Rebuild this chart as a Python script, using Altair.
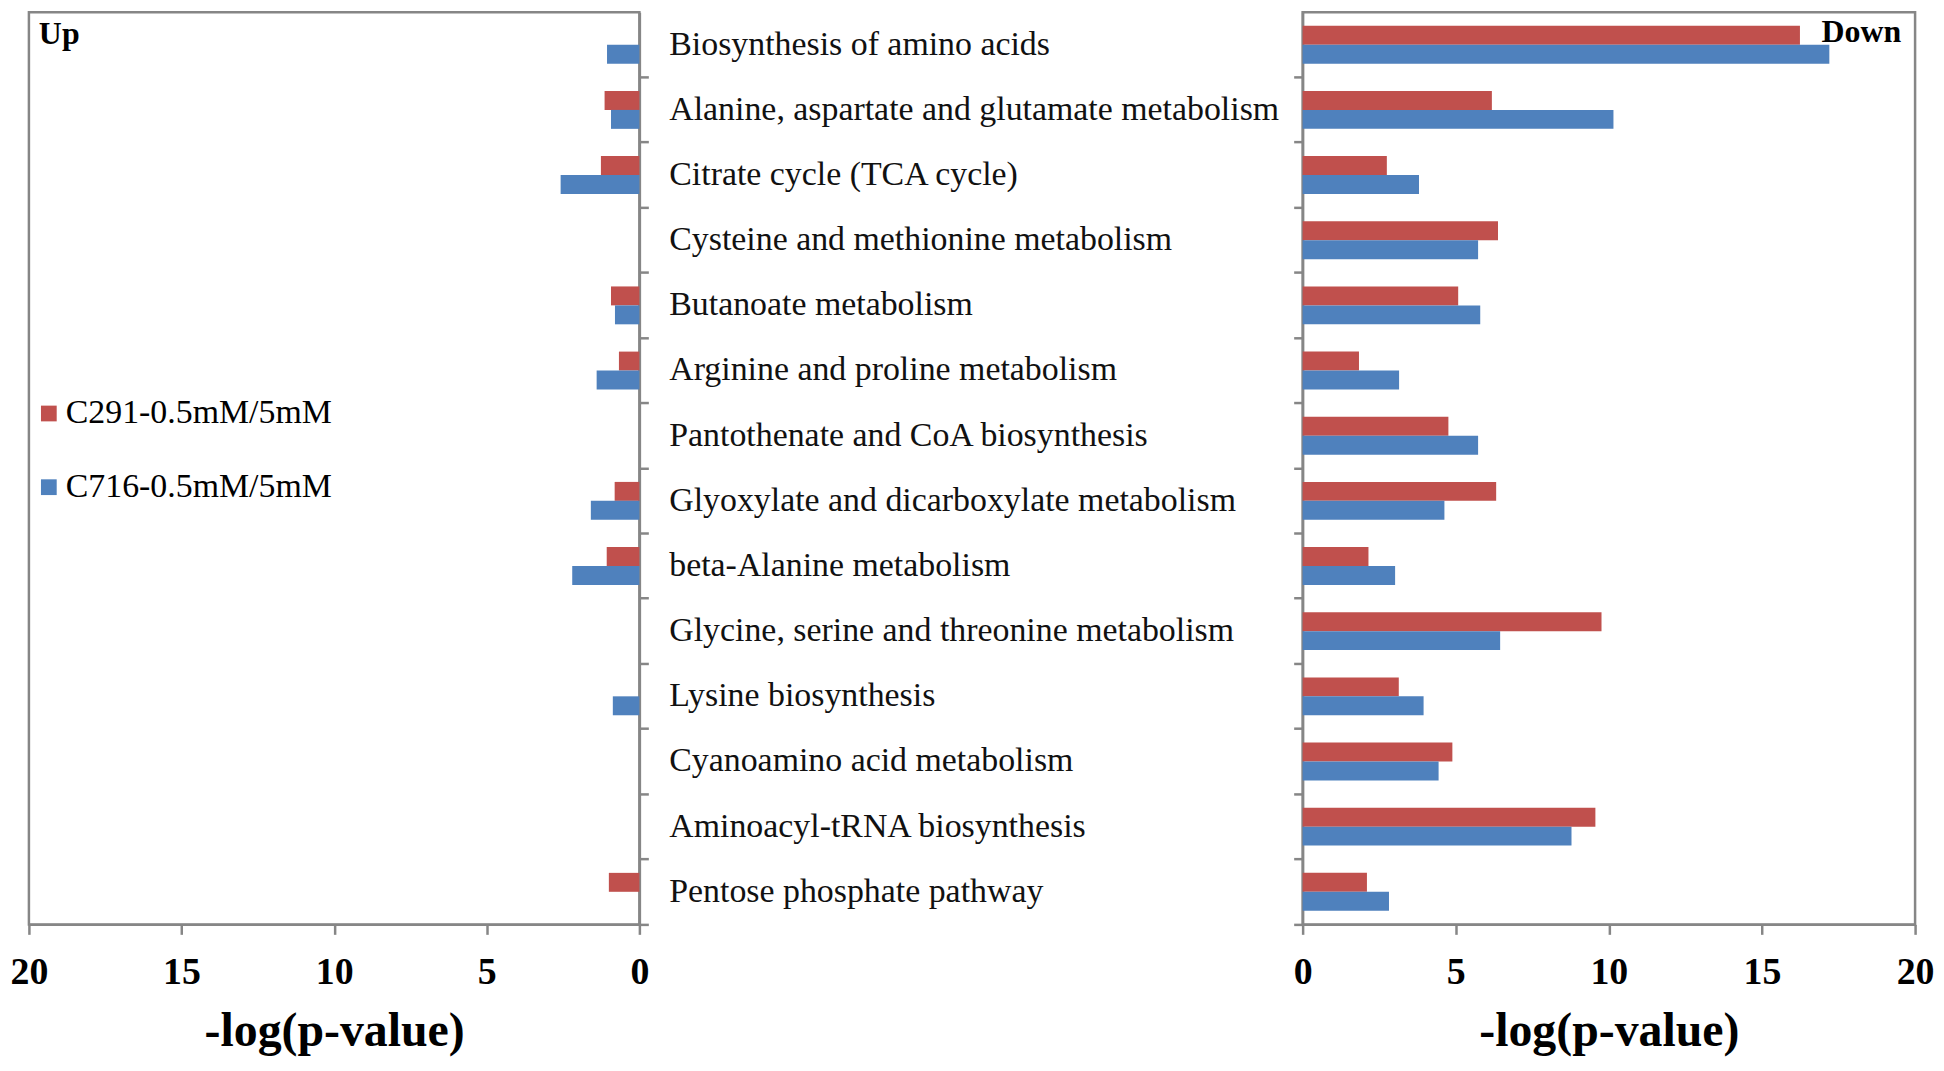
import altair as alt
import pandas as pd

pathways = [
    "Biosynthesis of amino acids",
    "Alanine, aspartate and glutamate metabolism",
    "Citrate cycle (TCA cycle)",
    "Cysteine and methionine metabolism",
    "Butanoate metabolism",
    "Arginine and proline metabolism",
    "Pantothenate and CoA biosynthesis",
    "Glyoxylate and dicarboxylate metabolism",
    "beta-Alanine metabolism",
    "Glycine, serine and threonine metabolism",
    "Lysine biosynthesis",
    "Cyanoamino acid metabolism",
    "Aminoacyl-tRNA biosynthesis",
    "Pentose phosphate pathway",
]
series = ["C291-0.5mM/5mM", "C716-0.5mM/5mM"]

up_c291 = [0, 1.14, 1.26, 0, 0.93, 0.67, 0, 0.81, 1.07, 0, 0, 0, 0, 1.0]
up_c716 = [1.06, 0.93, 2.58, 0, 0.80, 1.40, 0, 1.59, 2.20, 0, 0.87, 0, 0, 0]
down_c291 = [16.24, 6.18, 2.75, 6.38, 5.08, 1.84, 4.76, 6.32, 2.15, 9.76, 3.14, 4.89, 9.56, 2.10]
down_c716 = [17.20, 10.15, 3.80, 5.73, 5.80, 3.15, 5.73, 4.63, 3.02, 6.45, 3.95, 4.44, 8.78, 2.82]
ticks = [0, 5, 10, 15, 20]

RED = "#C0504D"
BLUE = "#4F81BD"
GRAY = "#868686"
FONT = "Liberation Serif"
H = 916


def long(a, b):
    rows = []
    for p, va, vb in zip(pathways, a, b):
        rows.append({"pathway": p, "series": series[0], "value": va})
        rows.append({"pathway": p, "series": series[1], "value": vb})
    return pd.DataFrame(rows)


df_up = long(up_c291, up_c716)
df_down = long(down_c291, down_c716)
df_names = pd.DataFrame({"pathway": pathways})

yscale = alt.Scale(paddingInner=0, paddingOuter=0)
yoff = alt.YOffset("series:N", sort=series, scale=alt.Scale(paddingInner=0, paddingOuter=0.72))
color = alt.Color(
    "series:N",
    sort=series,
    scale=alt.Scale(domain=series, range=[RED, BLUE]),
    legend=alt.Legend(
        orient="none", legendX=3, legendY=386, title=None, symbolType="square",
        symbolSize=250, symbolStrokeWidth=0, labelFont=FONT, labelFontSize=34,
        labelColor="black", labelLimit=500, rowPadding=40, labelOffset=0, padding=0,
    ),
)


def yaxis(orient):
    return alt.Axis(orient=orient, labels=False, ticks=True, tickSize=9, bandPosition=1,
                    title=None, domain=True)


def xaxis():
    return alt.Axis(values=ticks, title="-log(p-value)", grid=False, labelFlush=False,
                    tickSize=10, labelOverlap=False)


left_bars = alt.Chart(df_up).mark_bar().encode(
    x=alt.X("value:Q", scale=alt.Scale(domain=[0, 20], reverse=True, nice=False), axis=xaxis()),
    y=alt.Y("pathway:N", sort=pathways, scale=yscale, axis=yaxis("right")),
    yOffset=yoff,
    color=color,
)
up_text = alt.Chart(pd.DataFrame({"t": ["Up"]})).mark_text(
    align="left", baseline="middle", font=FONT, fontSize=32, fontWeight="bold", color="black"
).encode(x=alt.value(10), y=alt.value(22), text="t:N")
left = alt.layer(left_bars, up_text).properties(width=613, height=H)

mid = alt.Chart(df_names).mark_text(
    align="left", baseline="middle", font=FONT, fontSize=34, color="#111111"
).encode(
    y=alt.Y("pathway:N", sort=pathways, scale=yscale, axis=None),
    x=alt.value(18),
    text="pathway:N",
).properties(width=642, height=H, view=alt.ViewBackground(strokeOpacity=0))

right_bars = alt.Chart(df_down).mark_bar().encode(
    x=alt.X("value:Q", scale=alt.Scale(domain=[0, 20], nice=False), axis=xaxis()),
    y=alt.Y("pathway:N", sort=pathways, scale=yscale, axis=yaxis("left")),
    yOffset=yoff,
    color=color,
)
down_text = alt.Chart(pd.DataFrame({"t": ["Down"]})).mark_text(
    align="right", baseline="middle", font=FONT, fontSize=32, fontWeight="bold", color="black"
).encode(x=alt.value(601), y=alt.value(20), text="t:N")
right = alt.layer(right_bars, down_text).properties(width=615, height=H)

chart = (
    alt.hconcat(left, mid, right, spacing=0)
    .resolve_scale(color="shared")
    .properties(padding={"left": 0, "top": 0, "right": 0, "bottom": 0})
    .configure_view(stroke=GRAY, strokeWidth=2.5)
    .configure_axis(
        domainColor=GRAY, domainWidth=2.5, tickColor=GRAY, tickWidth=2.5,
        labelFont=FONT, labelFontSize=38, labelFontWeight="bold", labelColor="black",
        labelPadding=19, titleFont=FONT, titleFontSize=48, titleFontWeight="bold",
        titleColor="black", titlePadding=17,
    )
)

chart.save("out.html", embed_options={"renderer": "svg", "actions": False})
